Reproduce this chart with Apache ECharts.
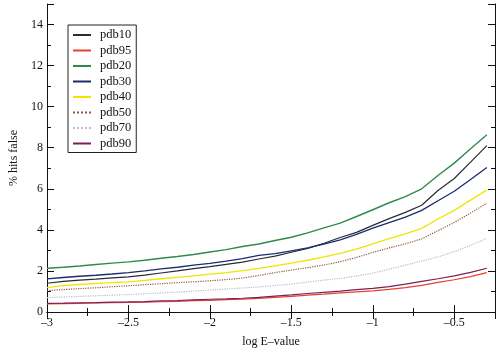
<!DOCTYPE html>
<html><head><meta charset="utf-8">
<script src="https://cdn.jsdelivr.net/npm/echarts@6/dist/echarts.min.js"></script>
<style>html,body{margin:0;padding:0;background:#fff}#c{width:500px;height:356px}</style>
</head><body><div id="c"></div>
<script>
const xValues = [-3.0,-2.9,-2.8,-2.7,-2.6,-2.5,-2.4,-2.3,-2.2,-2.1,-2.0,-1.9,-1.8,-1.7,-1.6,-1.5,-1.4,-1.3,-1.2,-1.1,-1.0,-0.9,-0.8,-0.7,-0.6,-0.5,-0.4,-0.3];
const pdb10 = [1.40,1.49,1.55,1.60,1.66,1.71,1.80,1.90,2.00,2.11,2.21,2.32,2.43,2.58,2.72,2.91,3.10,3.35,3.63,3.88,4.22,4.55,4.85,5.20,5.92,6.50,7.30,8.10];
const pdb95 = [0.40,0.41,0.42,0.44,0.45,0.47,0.48,0.50,0.52,0.55,0.57,0.60,0.63,0.66,0.71,0.76,0.82,0.87,0.93,0.98,1.03,1.10,1.19,1.30,1.44,1.57,1.72,1.92];
const pdb20 = [2.13,2.18,2.24,2.31,2.38,2.44,2.52,2.62,2.70,2.80,2.92,3.04,3.19,3.31,3.48,3.64,3.85,4.10,4.33,4.65,4.98,5.32,5.62,6.00,6.65,7.25,7.95,8.63];
const pdb30 = [1.61,1.68,1.74,1.79,1.85,1.92,2.00,2.10,2.18,2.28,2.37,2.48,2.60,2.76,2.84,2.98,3.12,3.30,3.51,3.78,4.08,4.35,4.62,4.95,5.42,5.88,6.45,7.04];
const pdb40 = [1.19,1.28,1.34,1.39,1.43,1.47,1.54,1.62,1.69,1.76,1.84,1.92,2.01,2.12,2.25,2.38,2.52,2.68,2.86,3.06,3.32,3.57,3.80,4.07,4.53,4.95,5.45,5.95];
const pdb50 = [1.04,1.09,1.14,1.18,1.23,1.28,1.33,1.38,1.43,1.47,1.52,1.58,1.65,1.78,1.92,2.04,2.16,2.29,2.45,2.66,2.90,3.12,3.32,3.56,3.96,4.36,4.82,5.30];
const pdb70 = [0.70,0.73,0.76,0.79,0.82,0.85,0.89,0.93,0.97,1.02,1.07,1.12,1.17,1.22,1.29,1.36,1.46,1.55,1.64,1.75,1.89,2.08,2.28,2.48,2.68,2.94,3.25,3.59];
const pdb90 = [0.42,0.43,0.45,0.46,0.48,0.49,0.51,0.54,0.56,0.59,0.62,0.64,0.67,0.71,0.77,0.83,0.90,0.96,1.02,1.09,1.15,1.24,1.36,1.49,1.62,1.76,1.93,2.13];
const yTicks = [0,2,4,6,8,10,12,14];
const xTicks = [-3,-2.5,-2,-1.5,-1,-0.5];

const F = '"Liberation Serif","DejaVu Serif",serif';
const seriesDefs = [
  {name:'pdb10', data:pdb10, color:'#2a2a38', type:'solid', w:1.2},
  {name:'pdb95', data:pdb95, color:'#e8402e', type:'solid', w:1.2},
  {name:'pdb20', data:pdb20, color:'#2f8a4e', type:'solid', w:1.4},
  {name:'pdb30', data:pdb30, color:'#1c2c6e', type:'solid', w:1.3},
  {name:'pdb40', data:pdb40, color:'#f2e400', type:'solid', w:1.3},
  {name:'pdb50', data:pdb50, color:'#8e5a3e', type:'dotted', w:1.2},
  {name:'pdb70', data:pdb70, color:'#b8bccc', type:'dotted', w:1.2},
  {name:'pdb90', data:pdb90, color:'#7a1f5a', type:'solid', w:1.2}
];
const fmt = v => String(v).replace('-', '\u2013');
const tickCommon = {show:true, inside:true, length:7, lineStyle:{color:'#111', width:1}};
const minorCommon = {show:true, splitNumber:2, length:4, lineStyle:{color:'#111', width:1}};
const chart = echarts.init(document.getElementById('c'), null, {renderer:'canvas'});
chart.setOption({
  animation:false,
  backgroundColor:'#fff',
  grid:{left:45, right:5, top:4, bottom:44, containLabel:false},
  legend:{
    orient:'vertical', left:68, top:25, padding:[3,5,2,4],
    borderColor:'#222', borderWidth:1,
    itemWidth:18, itemHeight:14, itemGap:1.5,
    itemStyle:{opacity:0},
    textStyle:{fontFamily:F, fontSize:12.5, color:'#111', padding:[0,0,0,4], lineHeight:14},
    data:seriesDefs.map(s=>s.name)
  },
  xAxis:[{
    type:'value', min:-3, max:-0.25, interval:0.5, position:'bottom',
    name:'log E\u2013value', nameLocation:'middle', nameGap:24,
    nameTextStyle:{fontFamily:F, fontSize:12, color:'#111'},
    axisLine:{lineStyle:{color:'#111', width:1}},
    axisTick:tickCommon, minorTick:minorCommon,
    splitLine:{show:false},
    axisLabel:{fontFamily:F, fontSize:12, color:'#111', margin:5, showMaxLabel:false,
      formatter:v => xTicks.includes(v) ? fmt(v) : ''}
  },{
    type:'value', min:-3, max:-0.25, interval:0.5, position:'top',
    axisLine:{show:true, lineStyle:{color:'#111', width:1}},
    axisTick:tickCommon, minorTick:minorCommon, axisLabel:{show:false}, splitLine:{show:false}
  }],
  yAxis:[{
    type:'value', min:0, max:15, interval:2, position:'left',
    name:'% hits false', nameLocation:'middle', nameGap:27, nameRotate:90,
    nameTextStyle:{fontFamily:F, fontSize:12, color:'#111'},
    axisLine:{show:true, lineStyle:{color:'#111', width:1}},
    axisTick:tickCommon, minorTick:minorCommon,
    splitLine:{show:false},
    axisLabel:{fontFamily:F, fontSize:12, color:'#111', margin:4, showMaxLabel:false,
      formatter:v => yTicks.includes(v) ? String(v) : ''}
  },{
    type:'value', min:0, max:15, interval:2, position:'right',
    axisLine:{show:true, lineStyle:{color:'#111', width:1}},
    axisTick:tickCommon, minorTick:minorCommon, axisLabel:{show:false}, splitLine:{show:false}
  }],
  series:seriesDefs.map(s=>({
    name:s.name, type:'line', xAxisIndex:0, yAxisIndex:0,
    symbol:'none', smooth:false, color:s.color,
    lineStyle:{color:s.color, width:s.w, type:s.type},
    data:xValues.map((x,i)=>[x, s.data[i]])
  }))
});
</script></body></html>
